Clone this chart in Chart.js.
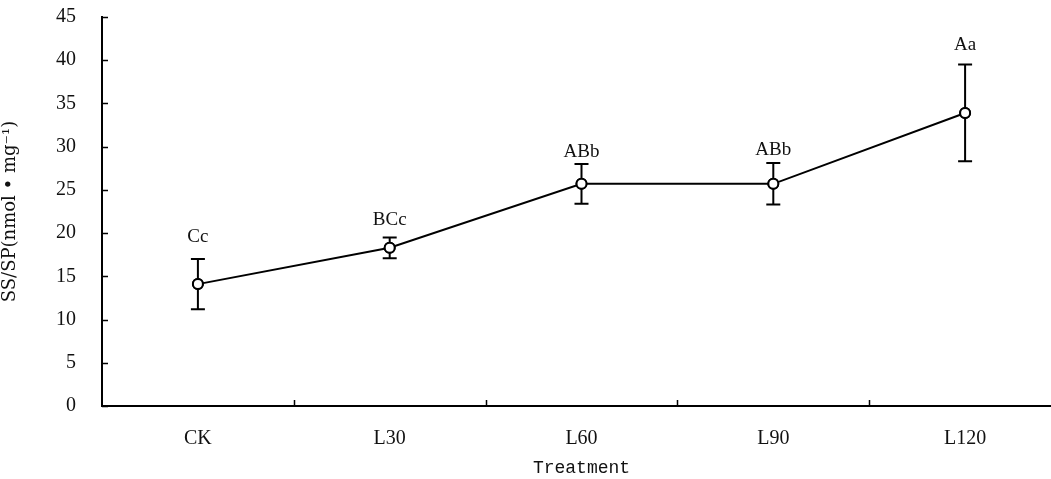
<!DOCTYPE html>
<html lang="en">
<head>
  <meta charset="UTF-8">
  <title>SS/SP by treatment</title>
  <style>
    html, body { margin: 0; padding: 0; background: #fff; overflow: hidden; }
    .chart-container { width: 1068px; height: 479px; }
  </style>
</head>
<body>
  <div class="chart-container">
    <canvas id="ssspChart"></canvas>
  </div>

  <script src="https://cdn.jsdelivr.net/npm/chart.js"></script>
  <script>
    // Datos
    const categories = ['CK', 'L30', 'L60', 'L90', 'L120'];
    const means = [14.1, 18.3, 25.7, 25.7, 33.9];
    const errors = [2.9, 1.2, 2.3, 2.4, 5.6];
    const letters = ['Cc', 'BCc', 'ABb', 'ABb', 'Aa'];
    const letterPos = [19.0, 20.9, 28.8, 29.0, 41.2];
    const yTicks = [0, 5, 10, 15, 20, 25, 30, 35, 40, 45];

    const serif = '"Liberation Serif", "DejaVu Serif", serif';

    // error bars, inner ticks and letters
    const extras = {
      id: 'extras',
      afterDatasetsDraw(chart) {
        const { ctx, scales: { x, y } } = chart;
        ctx.save();
        ctx.strokeStyle = '#000';
        ctx.lineWidth = 2;
        means.forEach((m, i) => {
          const px = x.getPixelForValue(i);
          const top = y.getPixelForValue(m + errors[i]);
          const bot = y.getPixelForValue(m - errors[i]);
          ctx.beginPath();
          ctx.moveTo(px, top); ctx.lineTo(px, bot);
          ctx.moveTo(px - 7, top); ctx.lineTo(px + 7, top);
          ctx.moveTo(px - 7, bot); ctx.lineTo(px + 7, bot);
          ctx.stroke();
        });
        // redraw the points over the bars
        const meta = chart.getDatasetMeta(0);
        meta.data.forEach(p => {
          ctx.beginPath();
          ctx.arc(p.x, p.y, 5, 0, Math.PI * 2);
          ctx.fillStyle = '#fff';
          ctx.fill();
          ctx.lineWidth = 2;
          ctx.stroke();
        });
        ctx.restore();
      },
      afterDraw(chart) {
        const { ctx, scales: { x, y }, chartArea } = chart;
        ctx.save();
        ctx.strokeStyle = '#000';
        ctx.lineWidth = 1.5;
        ctx.beginPath();
        yTicks.forEach(v => {
          const py = Math.round(y.getPixelForValue(v)) + 0.5;
          ctx.moveTo(chartArea.left, py); ctx.lineTo(chartArea.left + 6, py);
        });
        for (let i = 1; i < categories.length; i++) {
          const px = Math.round((x.getPixelForValue(i - 1) + x.getPixelForValue(i)) / 2) + 0.5;
          ctx.moveTo(px, chartArea.bottom); ctx.lineTo(px, chartArea.bottom - 6);
        }
        ctx.stroke();

        ctx.fillStyle = '#111';
        ctx.font = '19px ' + serif;
        ctx.textAlign = 'center';
        ctx.textBaseline = 'alphabetic';
        letters.forEach((t, i) => {
          ctx.fillText(t, x.getPixelForValue(i), y.getPixelForValue(letterPos[i]));
        });
        ctx.restore();
      }
    };

    const ctx = document.getElementById('ssspChart').getContext('2d');
    new Chart(ctx, {
      type: 'line',
      data: {
        labels: categories,
        datasets: [{
          label: 'SS/SP',
          data: means,
          borderColor: '#000',
          borderWidth: 2,
          pointRadius: 5,
          pointBorderWidth: 2,
          pointBackgroundColor: '#fff',
          pointBorderColor: '#000',
          tension: 0
        }]
      },
      options: {
        responsive: true,
        maintainAspectRatio: false,
        animation: false,
        layout: { padding: { top: 17, right: 0, left: 0, bottom: 0 } },
        plugins: {
          legend: { display: false },
          tooltip: { enabled: false }
        },
        scales: {
          x: {
            offset: true,
            grid: { display: false, offset: true },
            border: { color: '#000', width: 2 },
            ticks: { color: '#111', padding: 13, font: { family: serif, size: 20 } },
            title: {
              display: true,
              text: 'Treatment',
              color: '#111',
              padding: { top: 6, bottom: 0 },
              font: { family: '"Liberation Mono", "DejaVu Sans Mono", monospace', size: 18 }
            },
            afterFit(scale) {
              scale.height = 73;
              scale.paddingLeft = 0;
              scale.paddingRight = 0;
            }
          },
          y: {
            min: 0,
            max: 45,
            afterBuildTicks(scale) { scale.ticks = yTicks.map(v => ({ value: v })); },
            grid: { display: false },
            border: { color: '#000', width: 2 },
            ticks: { color: '#111', padding: 18, font: { family: serif, size: 20 } },
            title: {
              display: true,
              text: 'SS/SP(nmol \u2022 mg\u207B\u00B9)',
              color: '#111',
              padding: { top: 0, bottom: 3 },
              font: { family: '"DejaVu Serif", serif', size: 18 }
            },
            afterFit(scale) {
              scale.width = 102;
              scale.paddingTop = 0;
              scale.paddingBottom = 0;
            }
          }
        }
      },
      plugins: [extras]
    });
  </script>
</body>
</html>
